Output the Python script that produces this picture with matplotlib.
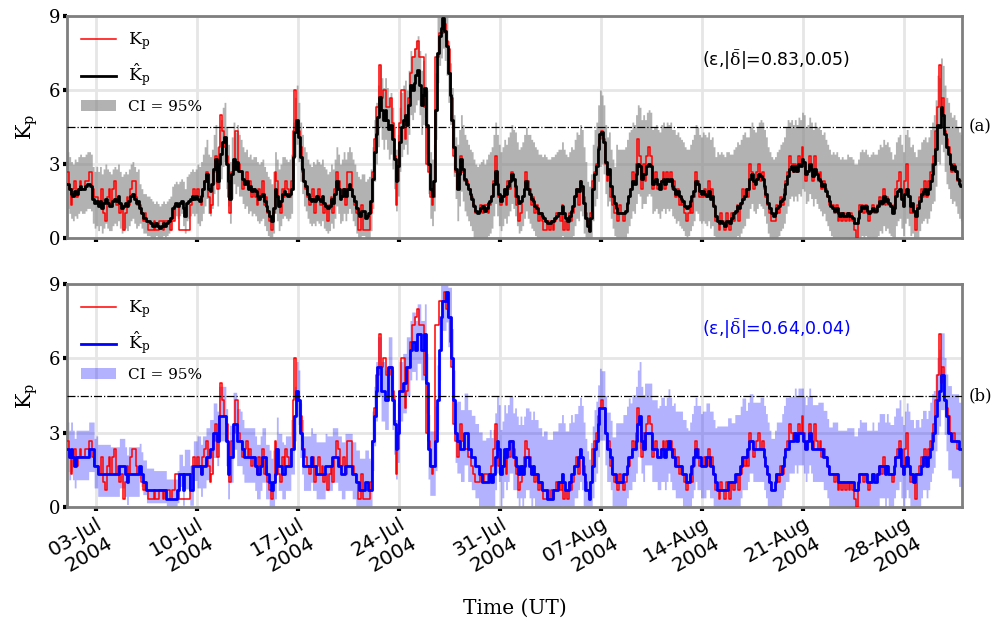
import numpy as np
import pandas as pd
import matplotlib
matplotlib.use("Agg")
import matplotlib.pyplot as plt
from matplotlib.patches import Patch
from matplotlib.lines import Line2D

# ---------------- data (3-hourly, one row per day, 1 Jul - 31 Aug 2004) ----------------
kp_obs = [
    [2.67, 2.0, 1.33, 2.0, 2.33, 1.67, 2.0, 2.33],
    [2.0, 2.0, 2.33, 2.33, 2.67, 2.67, 2.0, 1.67],
    [1.67, 1.33, 1.33, 2.0, 1.0, 0.67, 1.67, 2.0],
    [1.33, 2.0, 2.33, 1.33, 1.67, 1.0, 1.33, 0.33],
    [1.0, 1.67, 1.33, 2.0, 2.33, 2.33, 1.67, 1.33],
    [1.33, 1.0, 0.67, 1.0, 0.67, 0.33, 0.33, 0.33],
    [0.67, 0.33, 0.33, 0.67, 0.67, 0.33, 0.67, 0.67],
    [0.67, 0.33, 0.67, 0.67, 1.33, 1.33, 0.33, 0.33],
    [0.33, 0.33, 0.33, 0.33, 1.33, 1.67, 2.0, 1.67],
    [2.0, 1.67, 1.33, 2.0, 2.33, 2.67, 1.67, 1.0],
    [1.33, 2.67, 3.33, 2.0, 3.67, 5.0, 4.33, 3.67],
    [3.33, 1.67, 1.0, 2.67, 3.0, 4.33, 4.33, 3.0],
    [2.67, 2.0, 2.33, 2.67, 2.0, 2.33, 1.67, 2.0],
    [1.67, 1.33, 2.0, 1.67, 2.33, 1.33, 1.67, 1.0],
    [0.67, 0.33, 1.0, 2.67, 2.33, 1.33, 1.0, 2.0],
    [1.67, 2.33, 2.0, 1.67, 2.33, 4.33, 6.0, 4.33],
    [4.33, 3.67, 2.67, 2.33, 2.0, 1.67, 1.33, 1.67],
    [2.0, 1.0, 1.67, 2.0, 1.33, 1.67, 1.0, 1.33],
    [0.67, 1.33, 1.67, 1.0, 2.0, 2.67, 2.33, 1.67],
    [1.67, 2.0, 1.33, 2.67, 2.67, 2.67, 1.67, 1.33],
    [1.0, 0.33, 0.33, 1.33, 0.33, 0.33, 0.33, 0.33],
    [1.0, 2.67, 4.0, 5.33, 5.33, 7.0, 5.67, 6.0],
    [6.0, 5.33, 5.33, 5.67, 4.67, 3.33, 1.33, 2.33],
    [4.67, 6.0, 6.0, 4.0, 4.67, 5.67, 6.67, 7.33],
    [7.33, 7.67, 8.0, 7.33, 7.33, 7.33, 5.33, 3.0],
    [2.67, 1.67, 1.33, 1.67, 7.33, 7.33, 8.33, 8.33],
    [8.33, 8.67, 8.0, 7.67, 6.67, 5.67, 3.33, 2.67],
    [2.0, 2.67, 3.33, 2.67, 2.33, 2.33, 2.0, 2.0],
    [1.67, 1.33, 1.0, 1.0, 1.0, 1.33, 1.0, 1.33],
    [1.33, 1.0, 1.33, 1.67, 2.33, 3.33, 2.67, 1.67],
    [1.33, 1.67, 2.0, 1.33, 2.33, 2.0, 2.67, 2.33],
    [1.67, 1.33, 0.67, 1.0, 1.67, 2.0, 2.67, 2.33],
    [2.0, 1.33, 1.67, 1.0, 1.33, 0.67, 1.0, 0.67],
    [0.33, 0.33, 0.67, 0.33, 0.67, 0.33, 0.67, 1.0],
    [1.0, 0.67, 1.33, 0.33, 0.67, 0.33, 1.0, 0.67],
    [1.0, 1.67, 2.0, 1.33, 2.33, 2.0, 1.67, 1.0],
    [0.67, 0.33, 1.0, 2.33, 2.67, 3.0, 3.67, 4.0],
    [4.33, 4.0, 3.0, 2.33, 2.67, 1.67, 1.33, 1.0],
    [1.0, 0.67, 1.33, 1.0, 0.67, 1.0, 1.33, 1.67],
    [2.0, 2.67, 2.33, 3.0, 4.0, 3.33, 2.0, 3.0],
    [2.33, 3.33, 3.67, 3.33, 2.0, 2.33, 2.67, 2.0],
    [2.0, 2.33, 2.67, 2.0, 2.67, 2.33, 2.67, 2.0],
    [2.33, 1.67, 2.0, 1.33, 1.67, 1.33, 1.0, 0.67],
    [1.0, 1.33, 1.0, 1.67, 2.67, 2.33, 1.67, 1.67],
    [1.67, 2.0, 1.67, 2.33, 1.67, 2.0, 1.33, 0.67],
    [0.67, 0.33, 1.0, 0.67, 0.33, 1.0, 0.67, 0.33],
    [1.0, 0.67, 1.0, 1.33, 0.67, 1.33, 2.0, 1.67],
    [2.0, 1.67, 3.0, 2.67, 2.0, 2.33, 2.67, 3.0],
    [2.33, 2.67, 2.0, 1.67, 1.33, 1.0, 0.67, 0.67],
    [0.67, 1.33, 1.0, 1.67, 1.33, 2.0, 2.33, 2.67],
    [3.33, 3.0, 2.67, 3.0, 2.67, 3.33, 3.0, 3.67],
    [3.0, 2.33, 2.67, 3.33, 3.0, 2.33, 3.33, 2.67],
    [2.33, 2.67, 2.0, 2.33, 2.0, 1.67, 1.33, 1.33],
    [1.33, 1.0, 1.33, 0.67, 1.0, 0.67, 1.0, 0.67],
    [1.0, 0.67, 1.0, 0.67, 0.33, 0.0, 0.67, 1.33],
    [1.33, 1.0, 1.33, 1.0, 0.67, 1.0, 1.33, 1.0],
    [1.0, 1.33, 1.67, 1.33, 2.0, 1.33, 1.67, 1.33],
    [1.33, 1.0, 1.33, 2.0, 2.33, 2.67, 1.67, 1.33],
    [2.33, 3.0, 1.67, 1.0, 1.33, 1.0, 0.33, 1.33],
    [1.67, 2.0, 1.67, 2.33, 1.67, 2.33, 2.67, 3.0],
    [3.33, 4.33, 5.33, 7.0, 5.0, 5.67, 4.33, 4.0],
    [3.67, 3.0, 2.67, 3.0, 2.67, 2.33, 2.33, 2.33],
]

kp_hat_a = [
    [2.2, 2.0, 1.8, 1.7, 1.9, 1.8, 2.0, 2.1],
    [2.0, 2.0, 2.1, 2.2, 2.2, 2.1, 1.6, 1.4],
    [1.5, 1.3, 1.5, 1.2, 1.4, 1.6, 1.4, 1.3],
    [1.3, 1.5, 1.6, 1.5, 1.7, 1.4, 1.2, 1.3],
    [1.4, 1.3, 1.5, 1.7, 1.8, 1.6, 1.4, 1.5],
    [1.2, 1.0, 0.8, 0.8, 0.7, 0.7, 0.6, 0.5],
    [0.5, 0.6, 0.5, 0.4, 0.5, 0.6, 0.5, 0.6],
    [0.7, 0.8, 1.2, 1.3, 1.4, 1.3, 1.4, 1.5],
    [1.2, 0.9, 1.4, 1.5, 1.6, 1.7, 1.6, 1.7],
    [1.6, 1.5, 1.7, 2.0, 2.3, 2.6, 2.0, 1.9],
    [2.2, 2.8, 3.2, 2.3, 3.0, 3.4, 3.9, 4.1],
    [3.0, 2.3, 1.6, 2.6, 3.2, 2.8, 3.1, 2.7],
    [2.7, 2.4, 2.2, 2.3, 2.0, 2.1, 1.9, 2.0],
    [1.9, 1.7, 1.6, 1.7, 1.8, 1.5, 1.3, 1.1],
    [0.9, 0.7, 1.2, 2.0, 1.7, 1.3, 1.5, 1.8],
    [1.9, 1.8, 1.7, 1.8, 2.0, 3.3, 4.3, 4.8],
    [4.1, 3.3, 2.8, 2.3, 2.1, 1.8, 1.6, 1.5],
    [1.6, 1.5, 1.7, 1.6, 1.5, 1.7, 1.4, 1.3],
    [1.2, 1.3, 1.6, 1.4, 1.8, 2.3, 2.0, 1.6],
    [1.7, 2.0, 1.7, 2.0, 2.2, 2.0, 1.7, 1.5],
    [1.2, 1.0, 0.9, 1.1, 1.1, 0.8, 0.9, 1.0],
    [1.5, 2.4, 3.5, 4.2, 4.9, 5.7, 5.2, 4.8],
    [5.2, 4.8, 4.4, 4.6, 4.0, 3.2, 2.3, 2.9],
    [3.9, 4.5, 4.8, 5.0, 4.6, 5.4, 6.2, 6.0],
    [6.3, 6.6, 6.8, 6.2, 5.4, 5.8, 6.1, 4.6],
    [3.0, 2.0, 1.7, 2.3, 5.2, 7.5, 8.2, 8.5],
    [8.9, 8.4, 7.8, 6.7, 5.8, 4.8, 3.7, 2.8],
    [2.0, 2.6, 3.2, 2.8, 2.4, 2.2, 2.0, 1.8],
    [1.6, 1.3, 1.1, 1.0, 1.1, 1.2, 1.3, 1.1],
    [1.2, 1.4, 1.5, 1.7, 2.2, 2.7, 2.2, 1.8],
    [1.5, 1.7, 2.0, 1.8, 2.1, 2.3, 2.6, 2.4],
    [2.1, 1.7, 1.4, 1.5, 1.7, 2.0, 2.3, 2.0],
    [1.8, 1.6, 1.5, 1.3, 1.2, 1.0, 1.0, 0.9],
    [0.8, 0.7, 0.6, 0.6, 0.7, 0.7, 0.8, 0.9],
    [1.0, 1.0, 1.3, 1.0, 0.8, 0.7, 0.9, 1.1],
    [1.3, 1.7, 2.0, 1.9, 2.3, 2.1, 1.4, 0.8],
    [0.5, 0.3, 0.8, 2.0, 2.6, 2.9, 3.6, 4.2],
    [4.3, 3.9, 3.1, 2.6, 2.8, 2.1, 1.7, 1.4],
    [1.2, 1.0, 1.0, 1.0, 1.0, 1.1, 1.4, 1.7],
    [2.0, 2.3, 2.2, 2.6, 3.0, 2.9, 2.4, 2.6],
    [2.6, 2.9, 3.0, 2.9, 2.2, 2.3, 2.4, 2.2],
    [2.0, 2.3, 2.4, 2.2, 2.4, 2.3, 2.4, 2.1],
    [2.0, 1.8, 1.9, 1.7, 1.6, 1.5, 1.3, 1.2],
    [1.3, 1.5, 1.7, 1.9, 2.3, 2.2, 1.9, 1.8],
    [1.9, 1.8, 1.7, 1.9, 1.6, 1.7, 1.3, 0.9],
    [0.7, 0.6, 0.7, 0.6, 0.5, 0.7, 0.7, 0.6],
    [0.8, 1.0, 1.1, 1.3, 1.2, 1.4, 1.6, 1.7],
    [2.0, 2.0, 2.4, 2.6, 2.3, 2.2, 2.4, 2.6],
    [2.5, 2.4, 2.1, 1.8, 1.4, 1.2, 1.0, 0.9],
    [1.0, 1.2, 1.3, 1.5, 1.6, 1.8, 2.2, 2.5],
    [2.8, 2.9, 2.7, 2.9, 2.7, 3.0, 2.9, 3.2],
    [3.1, 2.6, 2.7, 3.0, 2.8, 2.5, 2.8, 2.6],
    [2.4, 2.3, 2.1, 2.2, 1.9, 1.7, 1.5, 1.3],
    [1.2, 1.1, 1.2, 1.0, 0.9, 1.0, 0.9, 0.9],
    [1.0, 0.9, 0.9, 0.8, 0.6, 0.6, 0.8, 1.1],
    [1.3, 1.2, 1.3, 1.1, 1.0, 1.1, 1.2, 1.1],
    [1.1, 1.3, 1.5, 1.4, 1.7, 1.5, 1.6, 1.4],
    [1.3, 1.0, 1.2, 1.7, 1.9, 2.0, 1.6, 1.3],
    [1.8, 2.0, 1.7, 1.3, 1.4, 1.1, 0.9, 1.2],
    [1.5, 1.8, 1.9, 2.0, 1.8, 2.0, 2.3, 2.6],
    [3.0, 3.6, 4.6, 4.5, 5.3, 5.0, 4.2, 3.7],
    [3.4, 3.0, 2.8, 2.9, 2.7, 2.4, 2.2, 2.1],
]

kp_hat_b = [
    [2.33, 2.0, 2.33, 2.0, 1.67, 2.0, 2.0, 2.0],
    [2.0, 2.0, 2.0, 2.0, 2.33, 2.33, 2.33, 1.67],
    [1.67, 1.33, 1.33, 1.33, 1.33, 1.33, 1.33, 1.33],
    [1.33, 1.33, 1.33, 1.33, 1.33, 1.67, 1.67, 1.67],
    [1.33, 1.0, 1.33, 1.33, 1.33, 1.33, 1.33, 1.33],
    [1.67, 1.33, 1.0, 1.0, 0.67, 0.67, 0.67, 0.67],
    [0.67, 0.67, 0.67, 0.67, 0.67, 0.67, 0.67, 0.33],
    [0.33, 0.33, 0.33, 0.33, 0.33, 0.67, 1.33, 1.33],
    [0.67, 1.33, 1.33, 1.33, 0.67, 0.67, 1.67, 1.67],
    [1.67, 1.67, 1.33, 1.67, 1.67, 2.0, 2.0, 2.33],
    [2.33, 3.0, 3.0, 2.67, 3.67, 3.67, 3.67, 3.67],
    [2.67, 1.33, 2.0, 2.0, 3.33, 3.33, 2.67, 2.67],
    [2.67, 2.33, 2.0, 2.0, 2.0, 2.0, 2.0, 2.0],
    [1.67, 1.33, 1.33, 1.67, 2.0, 2.0, 1.33, 1.33],
    [1.0, 0.67, 1.0, 1.33, 2.33, 1.67, 1.67, 1.33],
    [1.33, 1.67, 1.67, 1.67, 2.33, 2.33, 3.67, 4.67],
    [4.33, 3.0, 2.33, 1.67, 1.67, 1.67, 1.67, 2.0],
    [1.67, 1.67, 1.33, 1.33, 1.33, 1.33, 1.33, 1.67],
    [1.67, 1.67, 1.67, 2.0, 2.0, 2.0, 1.67, 1.67],
    [1.33, 1.33, 1.67, 1.67, 1.67, 1.67, 1.33, 1.33],
    [1.0, 1.0, 0.67, 0.67, 0.67, 1.0, 1.0, 0.67],
    [0.67, 2.67, 3.67, 4.67, 5.67, 5.67, 4.67, 4.67],
    [4.33, 4.33, 5.67, 5.67, 4.33, 3.33, 2.33, 3.0],
    [4.67, 4.67, 5.0, 5.0, 5.67, 5.67, 6.33, 6.67],
    [6.67, 6.33, 7.0, 7.0, 6.33, 6.33, 7.0, 5.0],
    [2.33, 1.67, 1.67, 1.67, 2.67, 4.33, 6.33, 7.67],
    [8.33, 8.33, 8.67, 7.67, 7.67, 6.0, 4.33, 3.0],
    [2.67, 2.67, 2.33, 2.33, 3.0, 3.0, 2.33, 2.33],
    [2.0, 2.0, 1.67, 1.67, 1.33, 1.33, 1.0, 1.0],
    [1.0, 1.0, 1.33, 1.0, 1.33, 2.0, 2.67, 2.33],
    [1.33, 1.67, 2.33, 2.0, 2.33, 2.67, 2.67, 2.0],
    [2.0, 1.67, 1.33, 1.67, 1.33, 1.67, 2.0, 2.0],
    [1.67, 1.33, 1.67, 1.33, 1.33, 1.0, 1.0, 0.67],
    [0.67, 0.67, 0.33, 0.33, 0.33, 0.67, 0.67, 0.67],
    [1.0, 1.0, 1.33, 1.0, 0.67, 0.67, 1.0, 1.33],
    [1.33, 1.67, 1.67, 2.0, 2.33, 2.0, 1.33, 0.67],
    [0.67, 0.33, 1.0, 1.67, 2.33, 2.67, 3.33, 4.0],
    [4.0, 4.0, 3.0, 2.33, 2.33, 2.0, 1.33, 1.33],
    [1.0, 1.0, 1.0, 1.0, 1.33, 1.33, 1.67, 2.0],
    [2.0, 2.33, 2.33, 2.67, 3.33, 3.67, 2.67, 2.33],
    [3.0, 3.0, 3.0, 3.0, 2.33, 2.33, 2.33, 2.0],
    [2.0, 2.33, 2.33, 2.0, 2.33, 2.67, 2.33, 2.0],
    [2.0, 1.67, 1.67, 1.67, 1.67, 1.33, 1.33, 1.0],
    [1.0, 1.33, 1.67, 2.0, 2.33, 2.0, 2.0, 1.67],
    [1.67, 1.67, 2.0, 2.0, 1.67, 1.67, 1.33, 1.0],
    [0.67, 0.67, 0.67, 0.67, 0.67, 0.67, 1.0, 1.0],
    [1.0, 1.0, 1.33, 1.33, 1.33, 1.67, 2.0, 2.0],
    [2.0, 2.33, 2.67, 2.67, 2.33, 2.33, 2.33, 2.33],
    [2.33, 2.33, 2.0, 1.67, 1.33, 1.0, 0.67, 0.67],
    [1.0, 1.33, 1.33, 1.33, 1.67, 2.0, 2.33, 2.33],
    [2.67, 2.67, 2.67, 3.0, 2.67, 3.0, 3.0, 3.0],
    [2.67, 2.33, 2.67, 3.0, 2.67, 2.33, 2.33, 2.33],
    [2.33, 2.33, 2.33, 2.0, 2.0, 1.67, 1.33, 1.33],
    [1.33, 1.33, 1.33, 1.0, 1.0, 1.0, 1.0, 1.0],
    [1.0, 1.0, 1.0, 1.0, 0.67, 0.67, 1.0, 1.33],
    [1.33, 1.33, 1.33, 1.0, 1.0, 1.0, 1.33, 1.0],
    [1.0, 1.33, 1.67, 1.67, 1.67, 1.33, 1.67, 1.33],
    [1.33, 1.33, 1.67, 2.0, 2.0, 2.33, 1.67, 1.33],
    [1.67, 2.0, 1.67, 1.33, 1.33, 1.0, 1.33, 1.33],
    [1.33, 1.67, 2.0, 2.0, 1.67, 2.0, 2.33, 2.67],
    [3.0, 3.67, 4.33, 4.67, 5.33, 5.33, 4.33, 3.67],
    [3.0, 3.0, 2.67, 2.67, 2.67, 2.67, 2.33, 2.33],
]

# distance of the 95% band above / below the estimate, one value per day
ci_up_a = [1.3, 1.3, 1.4, 1.3, 1.3, 1.0, 0.9, 0.9, 1.1, 1.4,
           1.4, 1.5, 1.3, 1.4, 1.5, 1.4, 1.4, 1.5, 1.4, 1.5,
           1.5, 1.3, 1.3, 1.4, 1.4, 1.5, 1.3, 1.8, 1.9, 2.0,
           2.0, 2.2, 2.4, 2.6, 2.6, 2.3, 1.8, 1.5, 2.6, 2.4,
           2.2, 2.3, 2.4, 2.3, 2.4, 2.8, 2.6, 2.1, 2.3, 2.3,
           1.9, 1.9, 2.1, 2.3, 2.4, 2.3, 2.3, 2.2, 2.4, 2.1,
           2.0, 2.1]
ci_lo_a = [1.0, 1.0, 1.0, 1.0, 1.0, 0.6, 0.5, 0.5, 0.7, 1.0,
           1.0, 1.0, 1.0, 1.0, 1.0, 1.0, 1.0, 1.0, 1.0, 1.0,
           1.0, 1.2, 1.2, 1.2, 1.2, 1.2, 1.2, 1.3, 1.3, 1.3,
           1.2, 1.2, 1.2, 1.2, 1.2, 1.2, 1.3, 1.3, 1.2, 1.2,
           1.2, 1.2, 1.2, 1.2, 1.2, 1.2, 1.2, 1.2, 1.2, 1.2,
           1.2, 1.2, 1.2, 1.2, 1.2, 1.2, 1.2, 1.2, 1.2, 1.2,
           1.5, 1.4]
ci_up_b = [1.1, 1.1, 1.2, 1.1, 1.1, 0.9, 0.8, 0.8, 1.0, 1.2,
           1.2, 1.3, 1.2, 1.2, 1.3, 1.2, 1.2, 1.3, 1.2, 1.3,
           1.3, 1.2, 1.2, 1.2, 1.2, 1.4, 1.2, 1.6, 1.7, 1.8,
           1.8, 2.0, 2.2, 2.4, 2.4, 2.1, 1.6, 1.5, 2.4, 2.2,
           2.0, 2.1, 2.2, 2.1, 2.2, 2.6, 2.4, 1.9, 2.1, 2.1,
           1.8, 1.8, 1.9, 2.1, 2.2, 2.1, 2.1, 2.0, 2.2, 1.9,
           1.7, 1.9]
ci_lo_b = [0.9, 0.9, 0.9, 0.9, 0.9, 0.5, 0.5, 0.5, 0.6, 0.9,
           1.0, 1.0, 1.0, 1.0, 1.0, 1.0, 1.0, 1.0, 1.0, 1.0,
           1.0, 1.2, 1.2, 1.2, 1.2, 1.2, 1.2, 1.3, 1.3, 1.3,
           1.3, 1.3, 1.3, 1.3, 1.3, 1.3, 1.3, 1.3, 1.3, 1.3,
           1.3, 1.3, 1.3, 1.3, 1.3, 1.3, 1.3, 1.3, 1.3, 1.3,
           1.3, 1.3, 1.3, 1.3, 1.3, 1.3, 1.3, 1.3, 1.3, 1.3,
           1.4, 1.5]

start_date = "2004-07-01"
end_date = "2004-09-01"
tick_dates = ["2004-07-03", "2004-07-10", "2004-07-17", "2004-07-24", "2004-07-31",
              "2004-08-07", "2004-08-14", "2004-08-21", "2004-08-28"]
tick_labels = ["03-Jul\n2004", "10-Jul\n2004", "17-Jul\n2004", "24-Jul\n2004",
               "31-Jul\n2004", "07-Aug\n2004", "14-Aug\n2004", "21-Aug\n2004",
               "28-Aug\n2004"]
storm_level = 4.5
metrics_a = (0.83, 0.05)
metrics_b = (0.64, 0.04)

# ---------------- plotting ----------------
plt.rcParams['mathtext.fontset'] = 'dejavuserif'
plt.rcParams['font.family'] = 'DejaVu Serif'

obs = np.array(kp_obs).ravel()
series = [
    (np.array(kp_hat_a).ravel(), np.repeat(ci_up_a, 8), np.repeat(ci_lo_a, 8)),
    (np.array(kp_hat_b).ravel(), np.repeat(ci_up_b, 8), np.repeat(ci_lo_b, 8)),
]

t = pd.date_range(start_date, periods=len(obs), freq="3h")
te = t.append(pd.DatetimeIndex([pd.Timestamp(end_date)]))


def ext(v):
    return np.append(v, v[-1])


fig = plt.figure(figsize=(9.93, 6.26), dpi=100)
ax1 = fig.add_axes([0.0675, 0.6198, 0.9015, 0.3546])
ax2 = fig.add_axes([0.0675, 0.1901, 0.9015, 0.3562])

styles = [
    (ax1, 'black', 'gray', 0.6, metrics_a, 'black', '(a)'),
    (ax2, 'blue', 'blue', 0.3, metrics_b, 'blue', '(b)'),
]

for (ax, lc, fc, fa, met, tc, tag), (pred, up, dn) in zip(styles, series):
    lo = np.clip(pred - dn, 0, 9)
    hi = np.clip(pred + up, 0, 9)
    ax.fill_between(te, ext(lo), ext(hi), step='post', color=fc, alpha=fa,
                    lw=0, zorder=2)
    ax.step(te, ext(obs), where='post', color='red', lw=1.1, zorder=3)
    ax.step(te, ext(pred), where='post', color=lc, lw=2.0, zorder=4)
    ax.axhline(storm_level, color='black', lw=0.9, ls='-.', zorder=5)

    ax.set_xlim(pd.Timestamp(start_date), pd.Timestamp(end_date))
    ax.set_ylim(0, 9)
    ax.set_yticks([0, 3, 6, 9])
    ax.set_xticks(pd.to_datetime(tick_dates))
    ax.grid(True, color='#e6e6e6', lw=2, zorder=0)
    ax.set_axisbelow(True)
    for s in ax.spines.values():
        s.set_color('#7f7f7f')
        s.set_linewidth(2)
    ax.tick_params(axis='both', direction='out', length=3, width=3,
                   color='black', labelsize=13, pad=2)
    ax.set_ylabel(r'$\mathrm{K_p}$', fontsize=15, labelpad=6)

    ax.text(0.792, 0.80, r'(ε,|$\bar{\mathrm{\delta}}$|=%.2f,%.2f)' % met,
            transform=ax.transAxes, ha='center', va='center', fontsize=12.5,
            color=tc, family='DejaVu Sans')
    ax.text(1.007, storm_level, tag, transform=ax.get_yaxis_transform(),
            ha='left', va='center', fontsize=12)

    handles = [Line2D([], [], color='red', lw=1.1),
               Line2D([], [], color=lc, lw=2.0),
               Patch(facecolor=fc, alpha=fa, edgecolor='none')]
    labels = [r'$\mathrm{K_p}$', r'$\mathrm{\hat{K}_p}$', 'CI = 95%']
    leg = ax.legend(handles, labels, loc='upper left', frameon=False, fontsize=11,
                    handlelength=2.3, labelspacing=0.7, borderaxespad=0.5,
                    bbox_to_anchor=(0.0, 1.0))
    for txt in leg.get_texts()[:2]:
        txt.set_fontsize(12.5)

ax1.set_xticklabels([])
ax2.set_xticklabels(tick_labels, rotation=30, ha='right',
                    rotation_mode='anchor', family='DejaVu Sans', fontsize=14.5)
ax2.set_xlabel('Time (UT)', fontsize=14.5, labelpad=10)

fig.savefig('out.png', dpi=100)
